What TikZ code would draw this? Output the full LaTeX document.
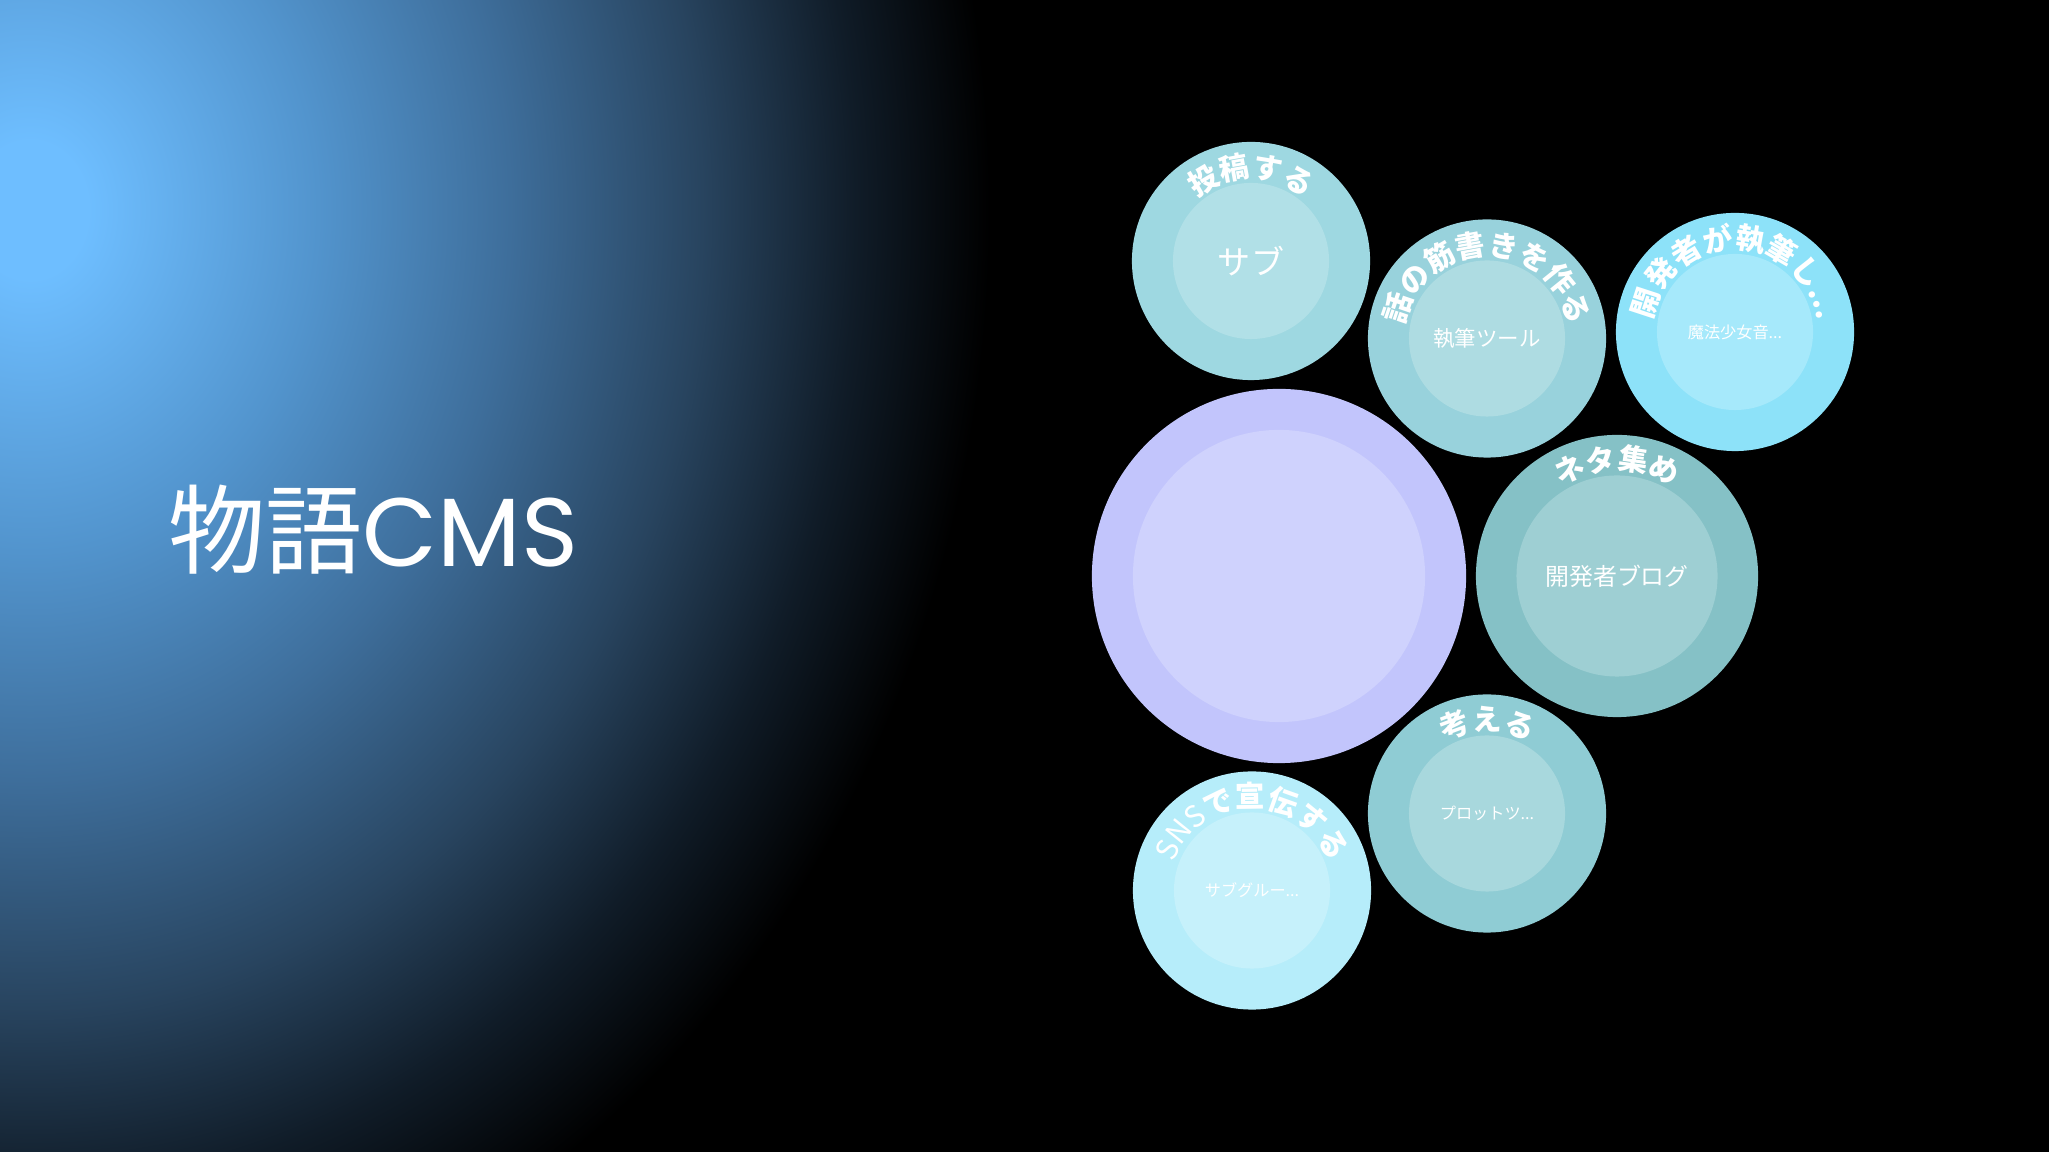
\documentclass[tikz,border=0pt]{standalone}
\usepackage{fontspec}
\setmainfont{Noto Sans CJK JP}
\newfontfamily\latinfont{Poppins}
\usetikzlibrary{decorations.text}

% bubble colours (outer ring / core)
\definecolor{mainout}{HTML}{C2C5FC}\definecolor{mainin}{HTML}{CFD2FD}
\definecolor{subout}{HTML}{9ED8E1}\definecolor{subin}{HTML}{B1E0E7}
\definecolor{toolout}{HTML}{98D2DC}\definecolor{toolin}{HTML}{AEDCE2}
\definecolor{magicout}{HTML}{8DE2F9}\definecolor{magicin}{HTML}{A6E9FB}
\definecolor{blogout}{HTML}{85C1C6}\definecolor{blogin}{HTML}{9ECFD3}
\definecolor{groupout}{HTML}{B6EDFA}\definecolor{groupin}{HTML}{C6F1FB}
\definecolor{plotout}{HTML}{8FCCD4}\definecolor{plotin}{HTML}{A8D8DD}

% background glow
\definecolor{glowA}{RGB}{110,190,255}
\definecolor{glowB}{RGB}{82,148,205}
\definecolor{glowC}{RGB}{62,110,155}
\definecolor{glowD}{RGB}{40,68,95}
\definecolor{glowE}{RGB}{16,28,40}
\pgfdeclareradialshading{glow}{\pgfpoint{0bp}{0bp}}{%
  color(0bp)=(glowA); color(1.5bp)=(glowA); color(7.5bp)=(glowB);
  color(12.5bp)=(glowC); color(17.5bp)=(glowD); color(21.5bp)=(glowE);
  color(25bp)=(black); color(50bp)=(black)}

\newcommand\ringfont{\bfseries\fontsize{8.4pt}{9pt}\selectfont}

\begin{document}
\begin{tikzpicture}[x=0.01cm,y=0.01cm,
  ball/.style={circle,inner sep=0pt,outer sep=0pt},
  core/.style={circle,inner sep=0pt,outer sep=0pt,text=white,align=center},
  ring/.style={decorate,decoration={text along path,text align=center,
               text color=white,text={#1}}}]
  \useasboundingbox (0,0) rectangle (2049,1152);
  \fill[black] (0,0) rectangle (2049,1152);
  \begin{scope}
    \clip (0,0) rectangle (2049,1152);
    \shade[shading=glow] (30,942) ellipse[x radius=960,y radius=1140];
  \end{scope}

  \node[anchor=base west,inner sep=0pt,text=white,
        font=\fontsize{27.6pt}{30pt}\selectfont] (title) at (168,585) {物語{\latinfont CMS}};

  % big bubble
  \node[ball,fill=mainout,minimum size=3.74cm] (main) at (1279,576) {};
  \node[core,fill=mainin,minimum size=2.92cm] (maincore) at (main) {};

  \node[ball,fill=subout,minimum size=2.38cm] (sub) at (1251,891) {};
  \node[core,fill=subin,minimum size=1.56cm,font=\fontsize{9.4pt}{10pt}\selectfont] (subcore) at (sub) {サブ};
  \path[ring={|\ringfont|投稿する}] (sub.center) ++(200:83) arc[start angle=200,end angle=-20,radius=83];

  \node[ball,fill=toolout,minimum size=2.38cm] (tool) at (1487,813.5) {};
  \node[core,fill=toolin,minimum size=1.56cm,font=\fontsize{6.1pt}{7pt}\selectfont] (toolcore) at (tool) {執筆ツール};
  \path[ring={|\ringfont|話の筋書きを作る}] (tool.center) ++(200:83) arc[start angle=200,end angle=-20,radius=83];

  \node[ball,fill=magicout,minimum size=2.38cm] (magic) at (1735,820) {};
  \node[core,fill=magicin,minimum size=1.56cm,font=\fontsize{4.6pt}{5pt}\selectfont] (magiccore) at (magic) {魔法少女音...};
  \path[ring={|\ringfont|開発者が執筆し...}] (magic.center) ++(200:83) arc[start angle=200,end angle=-20,radius=83];

  \node[ball,fill=blogout,minimum size=2.82cm] (blog) at (1617,576) {};
  \node[core,fill=blogin,minimum size=2.01cm,font=\fontsize{6.8pt}{7.5pt}\selectfont] (blogcore) at (blog) {開発者ブログ};
  \path[ring={|\ringfont|ネタ集め}] (blog.center) ++(200:106) arc[start angle=200,end angle=-20,radius=106];

  \node[ball,fill=plotout,minimum size=2.38cm] (plot) at (1487,338.5) {};
  \node[core,fill=plotin,minimum size=1.56cm,font=\fontsize{4.6pt}{5pt}\selectfont] (plotcore) at (plot) {プロットツ...};
  \path[ring={|\ringfont|考える}] (plot.center) ++(200:83) arc[start angle=200,end angle=-20,radius=83];

  \node[ball,fill=groupout,minimum size=2.38cm] (group) at (1252,261.5) {};
  \node[core,fill=groupin,minimum size=1.56cm,font=\fontsize{4.6pt}{5pt}\selectfont] (groupcore) at (group) {サブグルー...};
  \path[ring={|\ringfont\mdseries|SNS|\ringfont|で宣伝する}] (group.center) ++(200:83) arc[start angle=200,end angle=-20,radius=83];
\end{tikzpicture}
\end{document}
